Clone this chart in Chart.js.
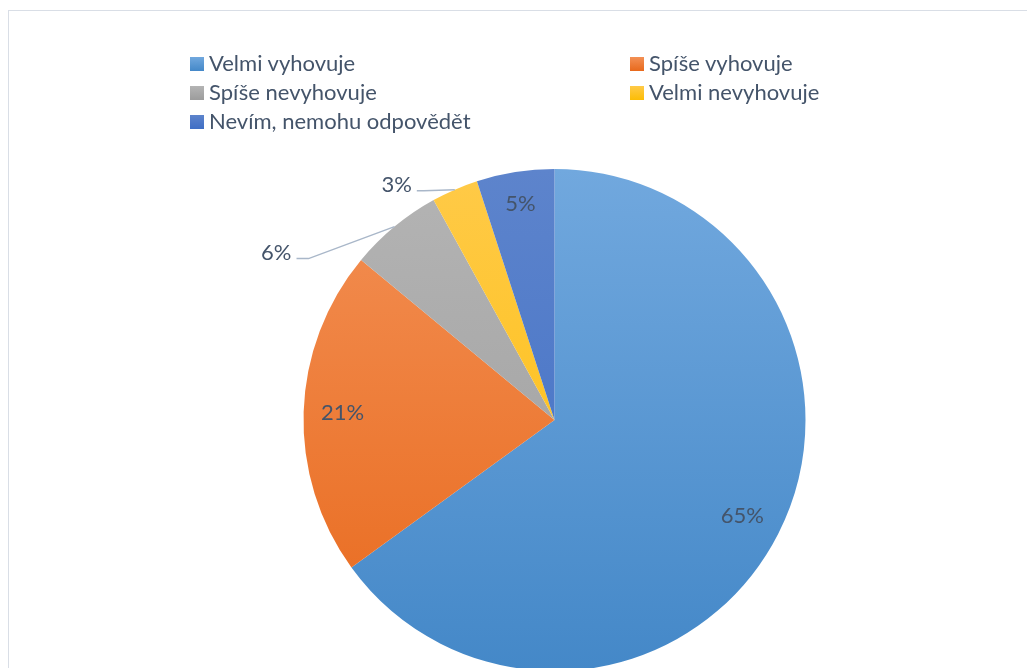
<!DOCTYPE html>
<html>
<head>
<meta charset="utf-8">
<script src="https://cdn.jsdelivr.net/npm/chart.js@4/dist/chart.umd.min.js"></script>
<style>
  html, body { margin:0; padding:0; background:#fff; overflow:hidden; width:1027px; height:668px; }
  #wrap { position:absolute; left:0; top:0; width:1027px; height:700px; }
  #frame { position:absolute; left:8px; top:10px; width:1040px; height:700px; border:1px solid #d9dee6; box-sizing:border-box; }
  #legend { position:absolute; left:0; top:0; font-family:Lato, sans-serif; font-size:22px; color:#44546a; }
  .item { position:absolute; white-space:nowrap; line-height:22px; }
  .sw { position:absolute; width:14px; height:14px; }
</style>
</head>
<body>
<div id="wrap">
  <div id="frame"></div>
  <canvas id="c" width="1027" height="700" style="position:absolute;left:0;top:0;width:1027px;height:700px"></canvas>
  <div id="legend"></div>
</div>
<script>
const categories = ["Velmi vyhovuje", "Spíše vyhovuje", "Spíše nevyhovuje", "Velmi nevyhovuje", "Nevím, nemohu odpovědět"];
const values = [65, 21, 6, 3, 5];
const valueLabels = ["65%", "21%", "6%", "3%", "5%"];
const topColors = ["#71a8de", "#f39055", "#b4b4b4", "#ffca48", "#5d84cc"];
const bottomColors = ["#4488c8", "#e8691c", "#9c9c9c", "#fcbd05", "#3f6ec5"];

// legend (HTML, real text)
const legendPos = [[190, 57], [630, 57], [190, 86], [630, 86], [190, 115]];
const legend = document.getElementById('legend');
categories.forEach((name, i) => {
  const sw = document.createElement('div');
  sw.className = 'sw';
  sw.style.left = legendPos[i][0] + 'px';
  sw.style.top = legendPos[i][1] + 'px';
  sw.style.background = 'linear-gradient(' + topColors[i] + ',' + bottomColors[i] + ')';
  legend.appendChild(sw);
  const t = document.createElement('div');
  t.className = 'item';
  t.textContent = name;
  t.style.left = (legendPos[i][0] + 19) + 'px';
  t.style.top = (legendPos[i][1] - 5) + 'px';
  legend.appendChild(t);
});

function sliceGradient(ctx) {
  const chart = ctx.chart;
  const area = chart.chartArea;
  if (!area) return topColors[ctx.dataIndex];
  const g = chart.ctx.createLinearGradient(0, area.top, 0, area.bottom);
  g.addColorStop(0, topColors[ctx.dataIndex]);
  g.addColorStop(1, bottomColors[ctx.dataIndex]);
  return g;
}

// label placement: inside (radius fraction) or outside with leader line
const labelStyle = [
  { inside: 0.84 },
  { inside: 0.845 },
  { outside: true, dx: -86, dy: 32, seg: 12 },
  { outside: true, dx: -31, dy: 1, seg: 7 },
  { inside: 0.87 }
];

const labelPlugin = {
  id: 'pieLabels',
  afterDatasetsDraw(chart) {
    const ctx = chart.ctx;
    const meta = chart.getDatasetMeta(0);
    ctx.save();
    ctx.font = '22px Lato, sans-serif';
    ctx.fillStyle = '#44546a';
    ctx.textBaseline = 'middle';
    meta.data.forEach((arc, i) => {
      const p = arc.getProps(['x', 'y', 'startAngle', 'endAngle', 'outerRadius'], true);
      const mid = (p.startAngle + p.endAngle) / 2;
      const st = labelStyle[i];
      if (st.inside) {
        const r = p.outerRadius * st.inside;
        ctx.textAlign = 'center';
        ctx.fillText(valueLabels[i], p.x + Math.cos(mid) * r, p.y + Math.sin(mid) * r);
      } else {
        const ex = p.x + Math.cos(mid) * p.outerRadius;
        const ey = p.y + Math.sin(mid) * p.outerRadius;
        const bx = ex + st.dx, by = ey + st.dy;
        ctx.strokeStyle = '#a9b7c9';
        ctx.lineWidth = 1.5;
        ctx.beginPath();
        ctx.moveTo(ex, ey);
        ctx.lineTo(bx, by);
        ctx.lineTo(bx - st.seg, by);
        ctx.stroke();
        ctx.textAlign = 'right';
        ctx.fillText(valueLabels[i], bx - st.seg - 5, by - 6);
      }
    });
    ctx.restore();
  }
};

new Chart(document.getElementById('c'), {
  type: 'pie',
  data: {
    labels: categories,
    datasets: [{
      data: values,
      backgroundColor: sliceGradient,
      borderWidth: 0
    }]
  },
  options: {
    responsive: false,
    animation: false,
    layout: { padding: { top: 169, bottom: 29, left: 303, right: 221 } },
    plugins: { legend: { display: false }, tooltip: { enabled: false } }
  },
  plugins: [labelPlugin]
});
</script>
</body>
</html>
